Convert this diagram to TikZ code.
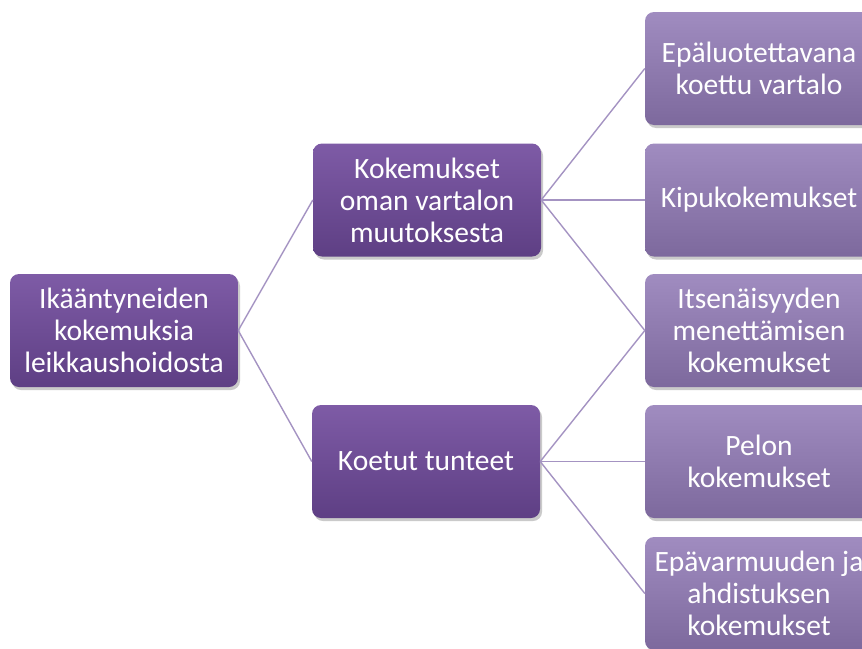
\documentclass[tikz,border=0pt]{standalone}
\usepackage{fontspec}
\setmainfont{Carlito}
\usetikzlibrary{shadows}
\definecolor{darkTop}{HTML}{7E5BA6}
\definecolor{darkBot}{HTML}{5E3F84}
\definecolor{lightTop}{HTML}{A08CC0}
\definecolor{lightBot}{HTML}{7D699D}
\definecolor{linkcol}{HTML}{A493C2}
\tikzset{
  box/.style={rounded corners=9pt, minimum width=228pt, minimum height=113pt,
    align=center, text=white, inner sep=0pt,
    font=\fontsize{29.5}{32}\selectfont,
    drop shadow={shadow xshift=2pt, shadow yshift=-3pt, opacity=0.35, fill=black!60}},
  darkbox/.style={box, top color=darkTop, bottom color=darkBot},
  lightbox/.style={box, top color=lightTop, bottom color=lightBot},
  link/.style={draw=linkcol, line width=1.4pt}
}
\begin{document}
\begin{tikzpicture}[x=1pt,y=-1pt]
\useasboundingbox (0,0) rectangle (862,648);
\clip (0,0) rectangle (862,648);
\node[darkbox] (root) at (124,330.5) {Ikääntyneiden\\kokemuksia\\leikkaushoidosta};
\node[darkbox] (a) at (427,200) {Kokemukset\\oman vartalon\\muutoksesta};
\node[darkbox] (b) at (426,461.5) {Koetut tunteet};
\node[lightbox] (c1) at (759,68.5) {Epäluotettavana\\koettu vartalo};
\node[lightbox] (c2) at (759,200) {Kipukokemukset};
\node[lightbox] (c3) at (759,330.5) {Itsenäisyyden\\menettämisen\\kokemukset};
\node[lightbox] (c4) at (759,461.5) {Pelon\\kokemukset};
\node[lightbox] (c5) at (759,593.5) {Epävarmuuden ja\\ahdistuksen\\kokemukset};
\draw[link] (root.east) -- (a.west);
\draw[link] (root.east) -- (b.west);
\draw[link] (a.east) -- (c1.west);
\draw[link] (a.east) -- (c2.west);
\draw[link] (a.east) -- (c3.west);
\draw[link] (b.east) -- (c3.west);
\draw[link] (b.east) -- (c4.west);
\draw[link] (b.east) -- (c5.west);
\end{tikzpicture}
\end{document}
